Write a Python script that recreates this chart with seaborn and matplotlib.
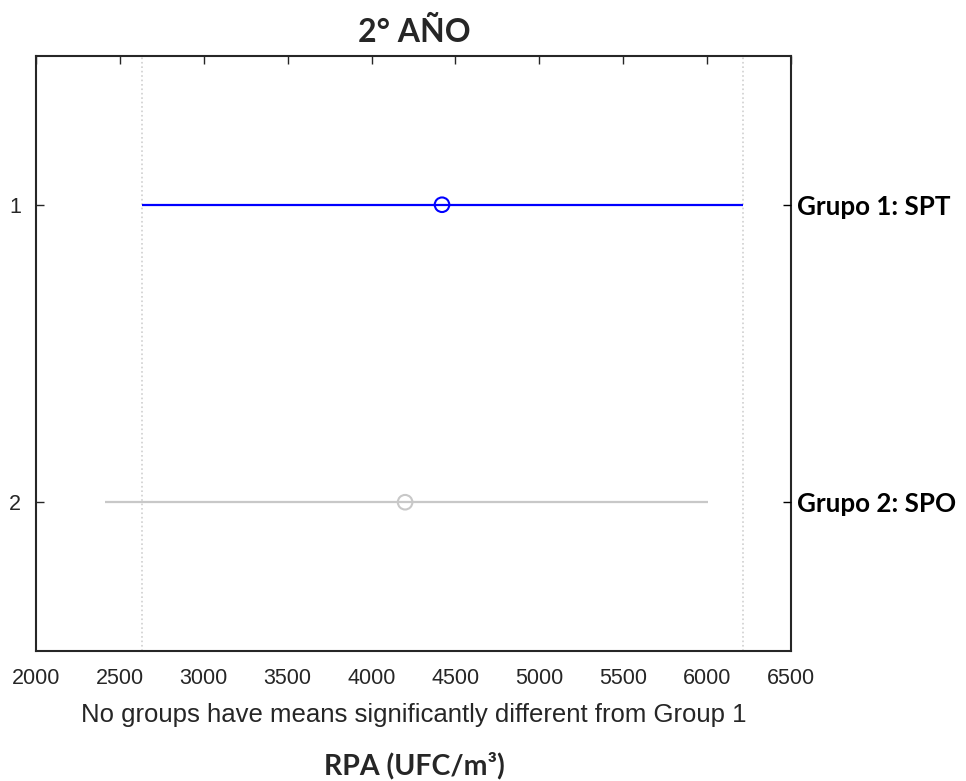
import numpy as np
import pandas as pd
import matplotlib
matplotlib.use("Agg")
import matplotlib.pyplot as plt
import seaborn as sns

# multiple comparison result (means + comparison intervals)
groups = [1, 2]
group_labels = ["Grupo 1: SPT", "Grupo 2: SPO"]
means = [4420, 4200]
lower = [2630, 2410]
upper = [6215, 6005]
colors = ["#0000ff", "#c8c8c8"]

df = pd.DataFrame({"group": groups, "mean": means, "lo": lower, "hi": upper})

sns.set_style("white")
plt.rcParams["font.family"] = ["Liberation Sans", "DejaVu Sans"]
bold_font = ["Lato", "DejaVu Sans"]

fig = plt.figure(figsize=(9.66, 7.81), dpi=100)
ax = fig.add_axes([0.0373, 0.1665, 0.7815, 0.7618])

# reference lines at the ends of group 1 interval
for xv in [lower[0], upper[0]]:
    ax.axvline(xv, color="#d0d0d0", linestyle=":", linewidth=1.2, zorder=0)

ax.hlines(df["group"], df["lo"], df["hi"], colors=colors, linewidth=1.6, zorder=2)
sns.scatterplot(data=df, x="mean", y="group", hue="group", palette=colors,
                marker="o", s=110, linewidth=1.5, legend=False, ax=ax, zorder=3)
# hollow markers
for coll in ax.collections[1:]:
    coll.set_facecolor("none")
    coll.set_edgecolor(colors)

ax.set_xlim(2000, 6500)
ax.set_ylim(2.5, 0.5)
ax.set_xticks(np.arange(2000, 6501, 500))
ax.set_yticks(groups)
ax.set_yticklabels(["1", "2"])
ax.tick_params(direction="in", length=6, width=1, top=True, right=False,
               labelsize=15.5, colors="#262626")
ax.tick_params(axis="x", pad=12)
ax.tick_params(axis="y", pad=11)
ax.set_xlabel("No groups have means significantly different from Group 1",
              fontsize=18.5, color="#262626", labelpad=10)
ax.set_ylabel("")
for s in ax.spines.values():
    s.set_visible(True)
    s.set_color("#262626")
    s.set_linewidth(1.5)

ax2 = ax.twinx()
ax2.set_ylim(2.5, 0.5)
ax2.set_yticks(groups)
ax2.set_yticklabels(group_labels, fontsize=18.7, fontweight="bold", family=bold_font)
ax2.tick_params(direction="in", length=6, width=1, pad=4, colors="black")
for s in ax2.spines.values():
    s.set_visible(False)

fig.text(0.4286, 0.946, "2° AÑO", ha="center", va="baseline",
         fontsize=23, fontweight="bold", family=bold_font)
fig.text(0.4286, 0.008, "RPA (UFC/m³)", ha="center", va="baseline",
         fontsize=20.5, fontweight="bold", family=bold_font)

fig.savefig("out.png", dpi=100)
